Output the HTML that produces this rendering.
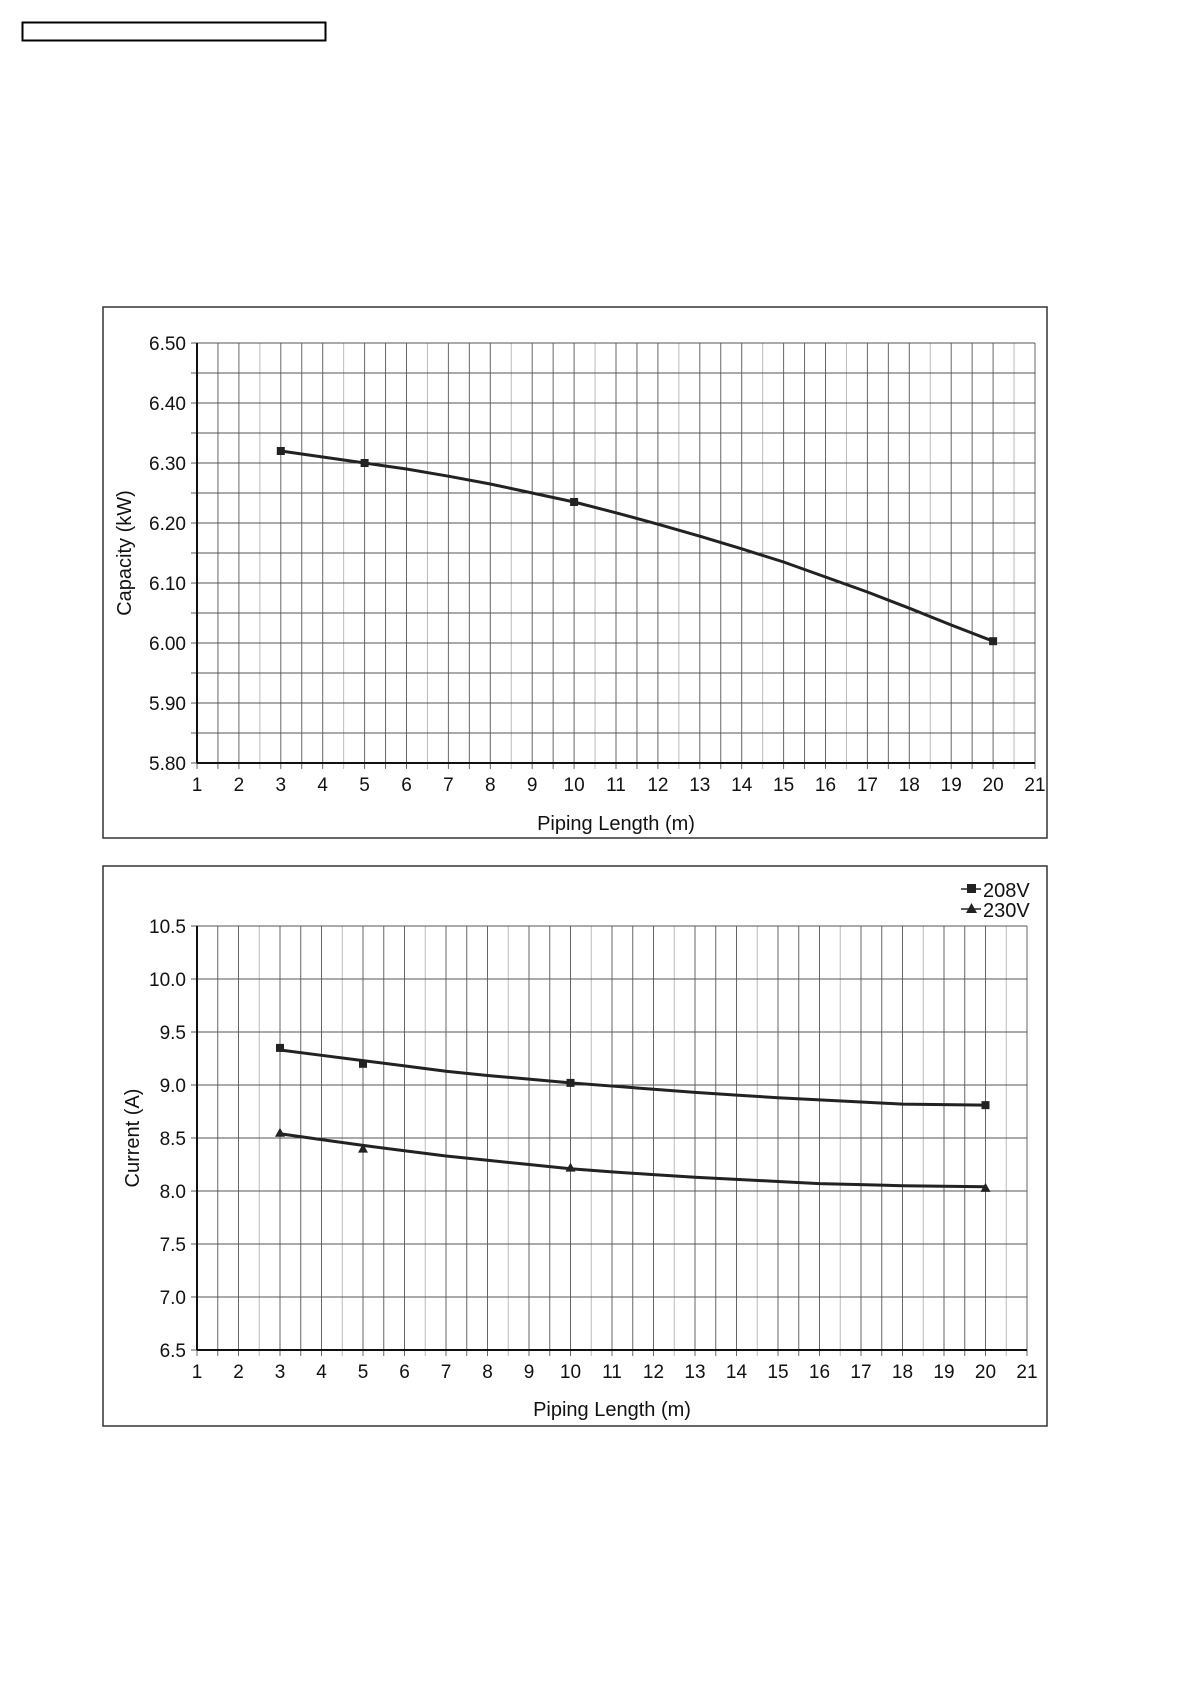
<!DOCTYPE html>
<html><head><meta charset="utf-8"><style>
html,body{margin:0;padding:0;background:#fff;width:1190px;height:1684px;overflow:hidden}
svg{display:block}
text{font-family:"Liberation Sans",sans-serif;fill:#111}
</style></head><body>
<svg id="s" width="1190" height="1684" viewBox="0 0 1190 1684"></svg>
<script>
const s=document.getElementById('s');let h='';
h+='<rect x="22.5" y="22.5" width="303" height="18" fill="none" stroke="#000" stroke-width="2"/>';
function chart(o){
 const {bx,by,bw,bh,L,T,R,B,ymin,ymax,ystep,ylab,yfmt,ytitle,ytx,xtitleY,series,minorY}=o;
 h+=`<rect x="${bx}" y="${by}" width="${bw}" height="${bh}" fill="none" stroke="#333" stroke-width="1.5"/>`;
 const X=x=>L+(x-1)*(R-L)/20, Y=v=>T+(ymax-v)*(B-T)/(ymax-ymin);
 for(let i=1;i<=41;i++){const x=1+(i-1)*0.5;const xx=X(x);
  h+=`<line x1="${xx}" y1="${T}" x2="${xx}" y2="${B+6}" stroke="${i%4==0?'#bbb':'#666'}" stroke-width="1"/>`;}
 for(let v=ymin;v<=ymax+1e-9;v+=minorY){const yy=Y(v);
  h+=`<line x1="${L-6}" y1="${yy}" x2="${R}" y2="${yy}" stroke="#555" stroke-width="1"/>`;}
 h+=`<line x1="${L}" y1="${T}" x2="${L}" y2="${B}" stroke="#111" stroke-width="2"/>`;
 h+=`<line x1="${L}" y1="${B}" x2="${R}" y2="${B}" stroke="#111" stroke-width="2"/>`;
 for(let v=ymin;v<=ymax+1e-9;v+=ystep){h+=`<text x="${L-11}" y="${Y(v)+7}" font-size="19" text-anchor="end">${v.toFixed(yfmt)}</text>`;}
 for(let x=1;x<=21;x++){h+=`<text x="${X(x)}" y="${B+28}" font-size="19" text-anchor="middle">${x}</text>`;}
 h+=`<text x="${(L+R)/2}" y="${xtitleY}" font-size="20" text-anchor="middle">Piping Length (m)</text>`;
 h+=`<text transform="translate(${ytx},${(T+B)/2}) rotate(-90)" font-size="20" text-anchor="middle">${ytitle}</text>`;
 for(const se of series){
  h+=`<polyline fill="none" stroke="#222" stroke-width="3" points="${se.c.map(p=>X(p[0])+','+Y(p[1])).join(' ')}"/>`;
  for(const p of se.m){const xx=X(p[0]),yy=Y(p[1]);
   if(se.t=='s')h+=`<rect x="${xx-4}" y="${yy-4}" width="8" height="8" fill="#222"/>`;
   else h+=`<polygon points="${xx},${yy-5} ${xx-5},${yy+4} ${xx+5},${yy+4}" fill="#222"/>`;}
 }
}
chart({bx:103,by:307,bw:944,bh:531,L:197,T:343,R:1035,B:763,ymin:5.8,ymax:6.5,ystep:0.1,minorY:0.05,yfmt:2,ytitle:'Capacity (kW)',ytx:131,xtitleY:830,
 series:[{t:'s',m:[[3,6.32],[5,6.30],[10,6.235],[20,6.003]],
 c:[[3,6.32],[4,6.31],[5,6.30],[6,6.29],[7,6.278],[8,6.265],[9,6.25],[10,6.235],[11,6.217],[12,6.198],[13,6.178],[14,6.157],[15,6.135],[16,6.11],[17,6.085],[18,6.058],[19,6.03],[20,6.003]]}]});
chart({bx:103,by:866,bw:944,bh:560,L:197,T:926,R:1027,B:1350,ymin:6.5,ymax:10.5,ystep:0.5,minorY:0.5,yfmt:1,ytitle:'Current (A)',ytx:139,xtitleY:1416,
 series:[{t:'s',m:[[3,9.35],[5,9.2],[10,9.02],[20,8.81]],c:[[3,9.33],[4,9.28],[5,9.23],[6,9.18],[7,9.13],[8,9.09],[9,9.055],[10,9.02],[11,8.99],[12,8.96],[13,8.93],[14,8.905],[15,8.88],[16,8.86],[17,8.84],[18,8.82],[19,8.815],[20,8.81]]},
 {t:'t',m:[[3,8.55],[5,8.40],[10,8.22],[20,8.03]],c:[[3,8.54],[4,8.485],[5,8.43],[6,8.38],[7,8.33],[8,8.29],[9,8.25],[10,8.21],[11,8.18],[12,8.155],[13,8.13],[14,8.11],[15,8.09],[16,8.07],[17,8.06],[18,8.05],[19,8.045],[20,8.04]]}]});
h+='<line x1="961" y1="889" x2="981" y2="889" stroke="#222" stroke-width="1.5"/><rect x="967" y="884" width="9" height="9" fill="#222"/>';
h+='<text x="983" y="897" font-size="20">208V</text>';
h+='<line x1="961" y1="909" x2="981" y2="909" stroke="#222" stroke-width="1.5"/><polygon points="971.5,903 966,913 977,913" fill="#222"/>';
h+='<text x="983" y="917" font-size="20">230V</text>';
s.innerHTML=h;
</script>
</body></html>
